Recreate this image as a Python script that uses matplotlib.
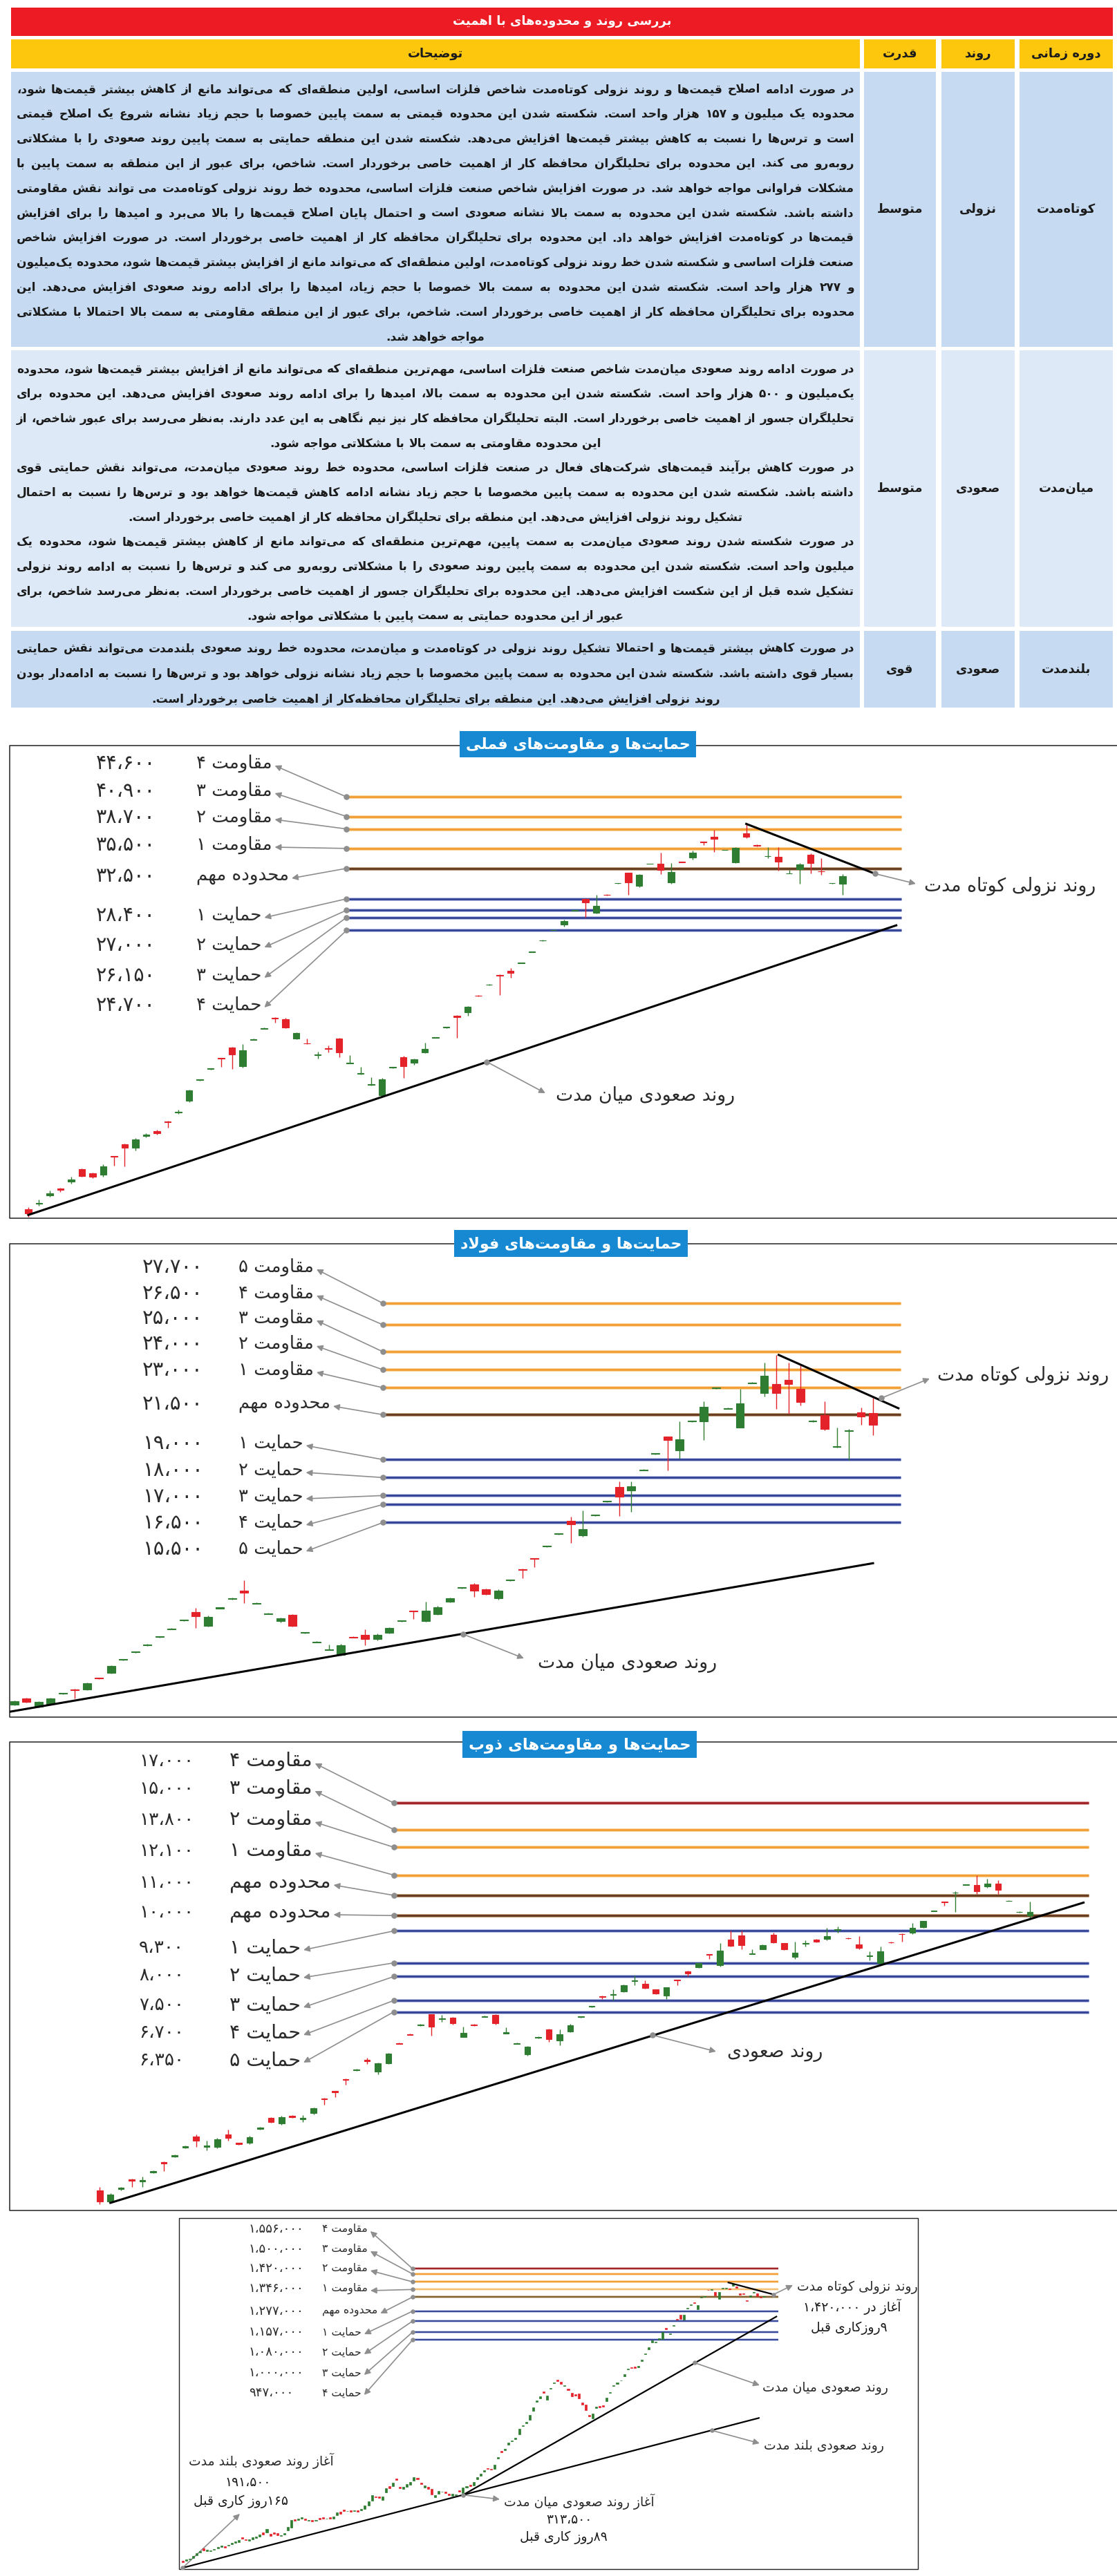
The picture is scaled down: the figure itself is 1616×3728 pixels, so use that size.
import re
import matplotlib
matplotlib.use('Agg')
import numpy as np
import matplotlib.pyplot as plt
from matplotlib.patches import Rectangle

plt.rcParams['font.family'] = ['DejaVu Sans']

# ========== Datos: tabla ==========
TABLE_TITLE = "بررسی روند و محدوده\u200cهای با اهمیت"
HEADERS = ["دوره زمانی", "روند", "قدرت", "توضیحات"]
PERIODS = ["کوتاه\u200cمدت", "میان\u200cمدت", "بلندمدت"]
TRENDS = ["نزولی", "صعودی", "صعودی"]
STRENGTH = ["متوسط", "متوسط", "قوی"]

ROW1 = [
    "در صورت ادامه اصلاح قیمت\u200cها و روند نزولی کوتاه\u200cمدت شاخص فلزات اساسی، اولین منطقه\u200cای که می\u200cتواند مانع از کاهش بیشتر قیمت\u200cها شود،",
    "محدوده یک میلیون و ۱۵۷ هزار واحد است. شکسته شدن این محدوده قیمتی به سمت پایین خصوصا با حجم زیاد نشانه شروع یک اصلاح قیمتی",
    "است و ترس\u200cها را نسبت به کاهش بیشتر قیمت\u200cها افزایش می\u200cدهد. شکسته شدن این منطقه حمایتی به سمت پایین روند صعودی را با مشکلاتی",
    "روبه\u200cرو می کند. این محدوده برای تحلیلگران محافظه کار از اهمیت خاصی برخوردار است. شاخص، برای عبور از این منطقه به سمت پایین با",
    "مشکلات فراوانی مواجه خواهد شد. در صورت افزایش شاخص صنعت فلزات اساسی، محدوده خط روند نزولی کوتاه\u200cمدت می تواند نقش مقاومتی",
    "داشته باشد. شکسته شدن این محدوده به سمت بالا نشانه صعودی است و احتمال پایان اصلاح قیمت\u200cها را بالا می\u200cبرد و امیدها را برای افزایش",
    "قیمت\u200cها در کوتاه\u200cمدت افزایش خواهد داد. این محدوده برای تحلیلگران محافظه کار از اهمیت خاصی برخوردار است. در صورت افزایش شاخص",
    "صنعت فلزات اساسی و شکسته شدن خط روند نزولی کوتاه\u200cمدت، اولین منطقه\u200cای که می\u200cتواند مانع از افزایش بیشتر قیمت\u200cها شود، محدوده یک\u200cمیلیون",
    "و ۲۷۷ هزار واحد است. شکسته شدن این محدوده به سمت بالا خصوصا با حجم زیاد، امیدها را برای ادامه روند صعودی افزایش می\u200cدهد. این",
    "محدوده برای تحلیلگران محافظه کار از اهمیت خاصی برخوردار است. شاخص، برای عبور از این منطقه مقاومتی به سمت بالا احتمالا با مشکلاتی",
    "مواجه خواهد شد.",
]
ROW2 = [
    "در صورت ادامه روند صعودی میان\u200cمدت شاخص صنعت فلزات اساسی، مهم\u200cترین منطقه\u200cای که می\u200cتواند مانع از افزایش بیشتر قیمت\u200cها شود، محدوده",
    "یک\u200cمیلیون و ۵۰۰ هزار واحد است. شکسته شدن این محدوده به سمت بالا، امیدها را برای ادامه روند صعودی افزایش می\u200cدهد. این محدوده برای",
    "تحلیلگران جسور از اهمیت خاصی برخوردار است. البته تحلیلگران محافظه کار نیز نیم نگاهی به این عدد دارند. به\u200cنظر می\u200cرسد برای عبور شاخص، از",
    "این محدوده مقاومتی به سمت بالا با مشکلاتی مواجه شود.",
    "در صورت کاهش برآیند قیمت\u200cهای شرکت\u200cهای فعال در صنعت فلزات اساسی، محدوده خط روند صعودی میان\u200cمدت، می\u200cتواند نقش حمایتی قوی",
    "داشته باشد. شکسته شدن این محدوده به سمت پایین مخصوصا با حجم زیاد نشانه ادامه کاهش قیمت\u200cها خواهد بود و ترس\u200cها را نسبت به احتمال",
    "تشکیل روند نزولی افزایش می\u200cدهد. این منطقه برای تحلیلگران محافظه کار از اهمیت خاصی برخوردار است.",
    "در صورت شکسته شدن روند صعودی میان\u200cمدت به سمت پایین، مهم\u200cترین منطقه\u200cای که می\u200cتواند مانع از کاهش بیشتر قیمت\u200cها شود، محدوده یک",
    "میلیون واحد است. شکسته شدن این محدوده به سمت پایین روند صعودی را با مشکلاتی روبه\u200cرو می کند و ترس\u200cها را نسبت به ادامه روند نزولی",
    "تشکیل شده قبل از این شکست افزایش می\u200cدهد. این محدوده برای تحلیلگران جسور از اهمیت خاصی برخوردار است. به\u200cنظر می\u200cرسد شاخص، برای",
    "عبور از این محدوده حمایتی به سمت پایین با مشکلاتی مواجه شود.",
]
ROW3 = [
    "در صورت کاهش بیشتر قیمت\u200cها و احتمالا تشکیل روند نزولی در کوتاه\u200cمدت و میان\u200cمدت، محدوده خط روند صعودی بلندمدت می\u200cتواند نقش حمایتی",
    "بسیار قوی داشته باشد. شکسته شدن این محدوده به سمت پایین مخصوصا با حجم زیاد نشانه نزولی خواهد بود و ترس\u200cها را نسبت به ادامه\u200cدار بودن",
    "روند نزولی افزایش می\u200cدهد. این منطقه برای تحلیلگران محافظه\u200cکار از اهمیت خاصی برخوردار است.",
]
ROWS = [ROW1, ROW2, ROW3]
ROW_LAST = [[10], [3, 6, 10], [2]]

# ========== Datos: فملی (miles de rial) ==========
C1_TITLE = "حمایت\u200cها و مقاومت\u200cهای فملی"
C1_LEVELS = [44.6, 40.9, 38.7, 35.5, 32.5, 28.4, 27.0, 26.15, 24.7]
C1_NAMES = ["مقاومت ۴", "مقاومت ۳", "مقاومت ۲", "مقاومت ۱", "محدوده مهم",
            "حمایت ۱", "حمایت ۲", "حمایت ۳", "حمایت ۴"]
C1_OPEN = [7.18, 7.35, 7.63, 7.86, 8.12, 8.58, 8.41, 8.38, 9.08, 9.56, 9.42, 9.93, 10.16, 10.60, 11.03,
           11.60, 12.72, 13.36, 14.03, 14.70, 13.52, 15.21, 15.98, 16.77, 16.66, 15.31, 14.99, 14.21,
           14.66, 15.31, 13.71, 13.09, 12.44, 11.90, 13.43, 14.08, 13.73, 14.40, 15.34, 16.05, 16.92,
           17.18, 18.51, 19.40, 20.25, 20.64, 21.37, 22.45, 23.60, 24.71, 25.31, 26.98, 28.41, 26.73,
           28.93, 30.41, 31.84, 30.06, 33.15, 33.17, 30.52, 33.45, 34.15, 36.55, 37.41, 35.25, 33.39,
           37.95, 36.07, 34.28, 34.23, 31.78, 32.38, 34.57, 32.07, 30.41, 30.39]
C1_HIGH = [7.25, 7.50, 7.80, 7.90, 8.28, 8.60, 8.45, 8.75, 9.10, 9.60, 9.85, 10.05, 10.20, 10.62, 11.15,
           12.20, 12.78, 13.42, 14.05, 14.75, 14.90, 15.27, 16.04, 16.80, 16.75, 15.70, 15.30, 14.45,
           14.85, 15.35, 14.20, 13.50, 12.90, 12.85, 13.49, 14.15, 14.00, 15.00, 15.40, 16.11, 16.95,
           17.65, 18.54, 19.46, 20.30, 20.90, 21.43, 22.51, 23.66, 24.77, 25.85, 27.04, 28.50, 28.91,
           28.97, 30.47, 31.90, 31.70, 33.21, 34.88, 33.30, 33.50, 35.21, 36.60, 38.49, 35.31, 35.65,
           39.58, 36.15, 35.71, 35.71, 32.30, 33.30, 34.73, 34.01, 30.47, 31.70]
C1_LOW = [6.95, 7.28, 7.58, 7.75, 8.05, 8.30, 8.25, 8.30, 8.72, 8.67, 9.30, 9.88, 10.00, 10.30, 10.95,
          11.55, 12.70, 13.34, 13.50, 13.38, 13.45, 15.19, 15.96, 16.40, 16.00, 15.25, 14.93, 14.00,
          14.40, 14.10, 13.70, 13.05, 12.42, 11.85, 13.41, 12.85, 13.60, 14.35, 15.32, 16.03, 15.36,
          16.90, 18.44, 19.38, 18.55, 20.00, 21.35, 22.43, 23.58, 24.69, 25.10, 26.96, 26.11, 26.60,
          28.85, 30.39, 28.94, 29.90, 33.13, 31.70, 30.40, 33.38, 33.77, 36.00, 34.98, 35.23, 33.30,
          37.10, 35.80, 34.01, 32.15, 31.75, 30.39, 31.80, 31.61, 30.39, 28.94]
C1_CLOSE = [7.04, 7.39, 7.71, 7.82, 8.20, 8.32, 8.28, 8.67, 9.05, 9.42, 9.77, 9.98, 10.06, 10.56, 11.07,
            12.17, 12.76, 13.40, 13.99, 14.26, 14.52, 15.25, 16.02, 16.73, 16.07, 15.67, 14.95, 14.25,
            14.62, 14.37, 13.75, 13.13, 12.48, 12.78, 13.47, 13.52, 13.93, 14.59, 15.38, 16.09, 16.84,
            17.62, 18.47, 19.44, 20.21, 20.43, 21.41, 22.49, 23.64, 24.75, 25.76, 27.02, 27.95, 27.56,
            28.89, 30.45, 30.52, 31.61, 33.19, 32.25, 31.97, 33.41, 34.88, 36.51, 36.99, 35.29, 35.57,
            37.41, 35.87, 34.32, 33.43, 31.82, 33.06, 33.30, 32.03, 30.45, 31.36]
C1_MID_X, C1_MID_Y = [0, 81], [7.0, 25.25]
C1_SHORT_X, C1_SHORT_Y = [67, 79], [39.58, 31.75]
C1_MID_DOT = (42.8, 13.79)

# ========== Datos: فولاد ==========
C2_TITLE = "حمایت\u200cها و مقاومت\u200cهای فولاد"
C2_LEVELS = [27.7, 26.5, 25.0, 24.0, 23.0, 21.5, 19.0, 18.0, 17.0, 16.5, 15.5]
C2_NAMES = ["مقاومت ۵", "مقاومت ۴", "مقاومت ۳", "مقاومت ۲", "مقاومت ۱", "محدوده مهم",
            "حمایت ۱", "حمایت ۲", "حمایت ۳", "حمایت ۴", "حمایت ۵"]
C2_OPEN = [5.36, 5.71, 5.24, 5.38, 5.96, 6.21, 6.19, 6.84, 7.13, 7.85, 8.26, 8.66, 9.12, 9.55, 10.03,
           10.52, 9.74, 10.72, 11.24, 11.69, 10.98, 10.41, 10.00, 10.35, 9.35, 8.83, 8.40, 8.11, 9.13,
           9.25, 9.02, 9.37, 10.00, 10.59, 10.00, 10.40, 11.08, 11.84, 12.03, 11.77, 11.26, 12.27,
           12.91, 13.51, 14.16, 14.84, 15.59, 14.78, 15.88, 16.65, 17.49, 17.27, 18.40, 19.31, 20.28,
           19.50, 21.12, 21.14, 22.97, 21.84, 20.79, 23.26, 22.72, 23.20, 23.42, 22.94, 21.12, 21.48,
           19.69, 20.60, 21.62, 21.60]
C2_HIGH = [5.60, 5.75, 5.55, 5.75, 6.02, 6.22, 6.58, 6.86, 7.55, 7.91, 8.32, 8.72, 9.18, 9.61, 10.09,
           10.74, 10.30, 10.78, 11.30, 12.29, 11.04, 10.47, 10.20, 10.40, 9.41, 8.89, 8.70, 8.72, 9.15,
           9.54, 9.30, 9.66, 10.06, 10.60, 11.08, 10.84, 11.30, 11.90, 12.12, 11.80, 11.76, 12.33,
           12.92, 13.52, 14.22, 14.90, 15.81, 16.15, 15.94, 16.71, 17.79, 17.79, 18.46, 19.37, 20.30,
           21.14, 21.18, 22.25, 23.03, 21.90, 22.94, 23.32, 24.40, 24.83, 24.40, 24.23, 21.20, 22.25,
           20.80, 20.70, 21.91, 22.43]
C2_LOW = [5.30, 5.45, 5.20, 5.35, 5.94, 5.71, 6.15, 6.78, 7.10, 7.83, 8.24, 8.64, 9.10, 9.53, 10.01,
          9.62, 9.70, 10.70, 11.22, 11.00, 10.96, 10.39, 9.95, 9.70, 9.33, 8.81, 8.38, 8.08, 9.07,
          8.68, 8.95, 9.33, 9.98, 10.14, 9.96, 10.35, 11.04, 11.82, 11.34, 11.48, 11.20, 12.25,
          12.40, 13.00, 14.14, 14.82, 14.35, 14.70, 15.86, 16.63, 15.84, 16.07, 18.38, 19.29, 18.39,
          19.07, 21.10, 20.11, 22.95, 21.82, 20.79, 23.24, 22.51, 21.82, 21.57, 22.00, 21.10, 20.62,
          19.68, 18.99, 20.93, 20.36]
C2_CLOSE = [5.55, 5.50, 5.50, 5.71, 6.00, 6.17, 6.53, 6.80, 7.51, 7.89, 8.30, 8.70, 9.16, 9.59, 10.07,
            10.26, 10.23, 10.76, 11.28, 11.60, 11.02, 10.45, 10.17, 9.74, 9.39, 8.87, 8.44, 8.68, 9.09,
            9.02, 9.25, 9.62, 10.04, 10.55, 10.57, 10.79, 11.26, 11.88, 11.72, 11.51, 11.72, 12.31,
            12.87, 13.47, 14.20, 14.88, 15.38, 15.12, 15.92, 16.69, 16.93, 17.53, 18.44, 19.35, 20.11,
            20.14, 21.16, 21.94, 23.01, 21.88, 22.13, 23.30, 23.66, 22.72, 23.20, 22.22, 21.16, 20.71,
            19.73, 20.64, 21.39, 20.93]
C2_MID_X, C2_MID_Y = [-0.36, 71], [4.96, 13.23]
C2_SHORT_X, C2_SHORT_Y = [63.2, 73.1], [24.83, 21.86]
C2_MID_DOT = (37.1, 9.28)
C2_SHORT_DOT = (71.7, 22.43)

# ========== Datos: ذوب ==========
C3_TITLE = "حمایت\u200cها و مقاومت\u200cهای ذوب"
C3_LEVELS = [17.0, 15.0, 13.8, 12.1, 11.0, 10.0, 9.3, 8.0, 7.5, 6.7, 6.35]
C3_NAMES = ["مقاومت ۴", "مقاومت ۳", "مقاومت ۲", "مقاومت ۱", "محدوده مهم", "محدوده مهم",
            "حمایت ۱", "حمایت ۲", "حمایت ۳", "حمایت ۴", "حمایت ۵"]
C3_OPEN = [2.74, 2.60, 2.75, 2.88, 2.85, 2.98, 3.13, 3.21, 3.35, 3.53, 3.36, 3.36, 3.56, 3.42, 3.42,
           3.66, 3.85, 3.75, 3.89, 3.83, 3.94, 4.22, 4.37, 4.63, 4.82, 5.06, 4.79, 4.98, 5.48, 5.72,
           5.96, 6.28, 6.13, 6.18, 5.64, 5.98, 6.20, 6.26, 5.74, 5.46, 5.19, 5.62, 5.85, 5.55, 5.79,
           6.19, 6.50, 6.84, 6.89, 7.00, 7.34, 7.24, 7.05, 6.85, 7.39, 7.69, 7.83, 8.34, 7.92, 8.93,
           9.10, 8.35, 8.54, 9.13, 8.77, 8.22, 8.76, 8.93, 8.96, 9.35, 9.00, 8.73, 8.26, 7.98, 8.82,
           9.17, 9.23, 9.46, 10.21, 10.68, 11.14, 11.55, 11.56, 11.48, 11.61, 10.71, 10.16, 10.00]
C3_HIGH = [2.78, 2.70, 2.78, 2.89, 2.92, 3.01, 3.14, 3.24, 3.38, 3.56, 3.46, 3.50, 3.64, 3.43, 3.54,
           3.69, 3.87, 3.89, 3.90, 3.90, 4.05, 4.23, 4.38, 4.64, 4.85, 5.11, 5.00, 5.23, 5.49, 5.73,
           5.99, 6.28, 6.25, 6.20, 5.92, 5.99, 6.23, 6.28, 5.90, 5.49, 5.41, 5.65, 5.87, 5.84, 5.99,
           6.22, 6.53, 6.85, 7.05, 7.23, 7.53, 7.36, 7.07, 7.14, 7.40, 7.71, 8.00, 8.35, 8.77, 9.30,
           9.30, 8.52, 8.73, 9.23, 8.79, 8.83, 8.90, 8.95, 9.43, 9.50, 9.02, 9.08, 8.46, 8.64, 8.83,
           9.18, 9.64, 9.76, 10.24, 10.69, 11.23, 11.58, 12.08, 11.90, 11.82, 10.74, 10.19, 10.67]
C3_LOW = [2.565, 2.58, 2.74, 2.78, 2.78, 2.97, 3.00, 3.20, 3.34, 3.36, 3.31, 3.34, 3.46, 3.39, 3.40,
          3.65, 3.76, 3.73, 3.85, 3.78, 3.92, 4.10, 4.25, 4.50, 4.81, 4.97, 4.73, 4.96, 5.45, 5.69,
          5.95, 5.67, 6.05, 5.98, 5.63, 5.95, 6.19, 5.98, 5.73, 5.45, 5.17, 5.61, 5.51, 5.43, 5.77,
          6.18, 6.49, 6.75, 6.70, 6.98, 7.21, 7.08, 6.91, 6.75, 7.20, 7.50, 7.81, 8.15, 7.86, 8.65,
          8.52, 8.34, 8.52, 8.77, 8.50, 8.15, 8.64, 8.81, 8.90, 9.23, 8.97, 8.52, 8.10, 7.92, 8.79,
          8.83, 9.16, 9.44, 10.20, 10.47, 10.17, 11.54, 11.07, 11.40, 11.07, 10.70, 10.15, 9.85]
C3_CLOSE = [2.60, 2.68, 2.77, 2.86, 2.87, 3.00, 3.11, 3.23, 3.37, 3.46, 3.38, 3.48, 3.51, 3.40, 3.52,
            3.68, 3.78, 3.87, 3.86, 3.85, 4.03, 4.20, 4.35, 4.61, 4.84, 5.03, 4.98, 5.21, 5.46, 5.70,
            5.98, 5.92, 6.15, 6.01, 5.75, 5.96, 6.22, 6.01, 5.76, 5.48, 5.39, 5.64, 5.59, 5.71, 5.97,
            6.21, 6.52, 6.82, 6.91, 7.21, 7.36, 7.10, 6.93, 7.12, 7.37, 7.61, 7.98, 8.32, 8.48, 8.67,
            8.71, 8.37, 8.71, 8.80, 8.52, 8.39, 8.78, 8.83, 9.08, 9.37, 8.98, 8.58, 8.28, 8.46, 8.80,
            9.15, 9.43, 9.74, 10.23, 10.66, 11.16, 11.57, 11.23, 11.61, 11.28, 10.73, 10.18, 10.18]
C3_UP_X, C3_UP_Y = [1.0, 92], [2.58, 10.63]
C3_UP_DOT = (51.7, 5.69)

# ========== Datos: شاخص فلزات اساسی (miles de unidades) ==========
C4_LEVELS = [1556, 1500, 1420, 1346, 1277, 1157, 1080, 1000, 947]
C4_NAMES = ["مقاومت ۴", "مقاومت ۳", "مقاومت ۲", "مقاومت ۱", "محدوده مهم",
            "حمایت ۱", "حمایت ۲", "حمایت ۳", "حمایت ۴"]
C4_OPEN = [203, 203, 205, 207, 211, 215, 221, 217, 216.8, 218.5, 221.5, 223.5, 224, 225, 228, 229.5,
           231, 239, 235.8, 233.5, 235.5, 238, 240.5, 247, 247, 245, 247, 246, 241.4, 244, 250, 255,
           270.5, 270, 271.5, 272.5, 268.4, 269, 267.5, 273.5, 275, 271.5, 275, 271.5, 278, 285,
           289.5, 286.5, 288.5, 287, 288.5, 288.5, 291.5, 298, 309, 318, 317, 309.5, 327, 341, 341,
           359, 340, 334.5, 340, 345, 354, 362, 350, 338, 339, 335, 315.5, 324, 327.5, 329, 324, 319,
           320.2, 331.5, 325.6, 338, 344.5, 343, 358, 367, 377, 387, 385.5, 384.3, 414.5, 437, 437.5,
           455, 466, 473, 489, 518, 530, 543, 576.2, 615.5, 630, 662, 624.4, 672.5, 700, 715.5, 706,
           685.5, 673, 653.2, 648.5, 651.5, 612, 602.8, 559.5, 547.3, 587.5, 598, 601, 617.5, 653.5,
           686, 695, 712, 736, 771.5, 781, 784, 781, 815, 856.5, 888, 931, 932, 948, 953.1, 1029,
           987, 1042, 1095, 1128.4, 1092.6, 1177.5, 1204.5, 1231, 1174.6, 1270, 1279, 1345, 1344,
           1320.9, 1258.6, 1354.5, 1353, 1356, 1382, 1373, 1309, 1312, 1249.5, 1281, 1318, 1307.8,
           1279.5, 1281]
C4_CLOSE = [201, 204.5, 206, 210, 214, 217, 218, 219, 217.6, 220.5, 223.5, 225, 222.5, 227, 230,
            231.5, 234, 236, 234.8, 235, 238.5, 240, 243, 244, 253, 241.5, 244.5, 242.5, 242.2, 246,
            257, 270, 267.5, 271.5, 275, 269.5, 269.4, 266.5, 270, 271, 272, 272.5, 272, 275.5, 284,
            282, 286.5, 287.5, 285.5, 288.5, 285.5, 291.5, 297.5, 307, 320, 315.5, 314.5, 318, 337,
            337, 350, 356, 335.5, 339, 346, 350.5, 363, 358.5, 345.5, 343, 334.5, 322, 320, 330, 329,
            325.5, 320, 323, 321.8, 328, 337.9, 341.5, 341, 351.8, 364, 373, 382, 384, 382.5, 396.8,
            417.5, 432, 442.5, 462, 469, 479, 509, 521.5, 533.5, 560.7, 591.2, 619.5, 638, 655,
            642.8, 676.5, 704.5, 711.5, 698, 690, 665.5, 637.6, 641, 630.5, 603, 579, 556.5, 565.2,
            595, 592, 595, 632.5, 657, 689.5, 702.5, 715, 745, 775, 778, 778.5, 790.5, 826.5, 860.5,
            899.5, 945, 936, 958, 1000.2, 1020, 991, 1047, 1090, 1096.1, 1128.4, 1183, 1210, 1222.5,
            1207.2, 1276, 1287.5, 1339.5, 1349.5, 1293.5, 1320.9, 1360.5, 1362, 1347, 1399, 1364,
            1299, 1303, 1244, 1293, 1324, 1287.3, 1275, 1286]
C4_LONG_X, C4_LONG_Y = [0, 164.4], [193, 549]
C4_MID_X, C4_MID_Y = [80, 169.4], [321, 1114]
C4_SHORT_X, C4_SHORT_Y = [155.7, 168.6], [1413, 1300]
C4_LONG_DOT = (151, 503.4)
C4_MID_DOT = (146.1, 807)
C4_LONG_START = 191500
C4_LONG_DAYS = 165
C4_MID_START = 313500
C4_MID_DAYS = 89
C4_PEAK = 1420000
C4_PEAK_DAYS = 9

# ========== Forma y orden de escritura persa ==========
FORMS = {
    '\u0621': ('\uFE80', None, None, None), '\u0622': ('\uFE81', '\uFE82', None, None),
    '\u0623': ('\uFE83', '\uFE84', None, None), '\u0624': ('\uFE85', '\uFE86', None, None),
    '\u0625': ('\uFE87', '\uFE88', None, None), '\u0626': ('\uFE89', '\uFE8A', '\uFE8B', '\uFE8C'),
    '\u0627': ('\uFE8D', '\uFE8E', None, None), '\u0628': ('\uFE8F', '\uFE90', '\uFE91', '\uFE92'),
    '\u0629': ('\uFE93', '\uFE94', None, None), '\u062A': ('\uFE95', '\uFE96', '\uFE97', '\uFE98'),
    '\u062B': ('\uFE99', '\uFE9A', '\uFE9B', '\uFE9C'), '\u062C': ('\uFE9D', '\uFE9E', '\uFE9F', '\uFEA0'),
    '\u062D': ('\uFEA1', '\uFEA2', '\uFEA3', '\uFEA4'), '\u062E': ('\uFEA5', '\uFEA6', '\uFEA7', '\uFEA8'),
    '\u062F': ('\uFEA9', '\uFEAA', None, None), '\u0630': ('\uFEAB', '\uFEAC', None, None),
    '\u0631': ('\uFEAD', '\uFEAE', None, None), '\u0632': ('\uFEAF', '\uFEB0', None, None),
    '\u0633': ('\uFEB1', '\uFEB2', '\uFEB3', '\uFEB4'), '\u0634': ('\uFEB5', '\uFEB6', '\uFEB7', '\uFEB8'),
    '\u0635': ('\uFEB9', '\uFEBA', '\uFEBB', '\uFEBC'), '\u0636': ('\uFEBD', '\uFEBE', '\uFEBF', '\uFEC0'),
    '\u0637': ('\uFEC1', '\uFEC2', '\uFEC3', '\uFEC4'), '\u0638': ('\uFEC5', '\uFEC6', '\uFEC7', '\uFEC8'),
    '\u0639': ('\uFEC9', '\uFECA', '\uFECB', '\uFECC'), '\u063A': ('\uFECD', '\uFECE', '\uFECF', '\uFED0'),
    '\u0641': ('\uFED1', '\uFED2', '\uFED3', '\uFED4'), '\u0642': ('\uFED5', '\uFED6', '\uFED7', '\uFED8'),
    '\u0643': ('\uFED9', '\uFEDA', '\uFEDB', '\uFEDC'), '\u0644': ('\uFEDD', '\uFEDE', '\uFEDF', '\uFEE0'),
    '\u0645': ('\uFEE1', '\uFEE2', '\uFEE3', '\uFEE4'), '\u0646': ('\uFEE5', '\uFEE6', '\uFEE7', '\uFEE8'),
    '\u0647': ('\uFEE9', '\uFEEA', '\uFEEB', '\uFEEC'), '\u0648': ('\uFEED', '\uFEEE', None, None),
    '\u0649': ('\uFEEF', '\uFEF0', None, None), '\u064A': ('\uFEF1', '\uFEF2', '\uFEF3', '\uFEF4'),
    '\u067E': ('\uFB56', '\uFB57', '\uFB58', '\uFB59'), '\u0686': ('\uFB7A', '\uFB7B', '\uFB7C', '\uFB7D'),
    '\u0698': ('\uFB8A', '\uFB8B', None, None), '\u06A9': ('\uFB8E', '\uFB8F', '\uFB90', '\uFB91'),
    '\u06AF': ('\uFB92', '\uFB93', '\uFB94', '\uFB95'), '\u06CC': ('\uFBFC', '\uFBFD', '\uFBFE', '\uFBFF'),
}
LAM_ALEF = {'\u0622': ('\uFEF5', '\uFEF6'), '\u0623': ('\uFEF7', '\uFEF8'),
            '\u0625': ('\uFEF9', '\uFEFA'), '\u0627': ('\uFEFB', '\uFEFC')}
NUM_RE = re.compile(r'[0-9\u06F0-\u06F9]+(?:[.,\u060C\u066B][0-9\u06F0-\u06F9]+)*')


def shape(s):
    out, i, n = [], 0, len(s)
    while i < n:
        ch = s[i]
        if ch not in FORMS:
            if ch != '\u200c':
                out.append(ch)
            i += 1
            continue
        prev = s[i - 1] if i > 0 else None
        jp = prev in FORMS and FORMS[prev][2] is not None
        if ch == '\u0644' and i + 1 < n and s[i + 1] in LAM_ALEF:
            iso, fin = LAM_ALEF[s[i + 1]]
            out.append(fin if jp else iso)
            i += 2
            continue
        nxt = s[i + 1] if i + 1 < n else None
        iso, fin, ini, med = FORMS[ch]
        jn = ini is not None and nxt in FORMS
        out.append(med if (jp and jn) else fin if jp else ini if jn else iso)
        i += 1
    return ''.join(out)


def vis(s):
    t = shape(s)
    parts, pos = [], 0
    for m in NUM_RE.finditer(t):
        if m.start() > pos:
            parts.append((False, t[pos:m.start()]))
        parts.append((True, m.group()))
        pos = m.end()
    if pos < len(t):
        parts.append((False, t[pos:]))
    return ''.join(p if num else p[::-1] for num, p in reversed(parts))


def fa_num(n):
    return f"{int(round(n)):,}".translate(str.maketrans('0123456789,', '۰۱۲۳۴۵۶۷۸۹،'))


# ========== Lienzo ==========
W, H = 1616, 3728
fig = plt.figure(figsize=(W / 100, H / 100), dpi=100)
bg = fig.add_axes([0, 0, 1, 1])
bg.set_xlim(0, W)
bg.set_ylim(H, 0)
bg.axis('off')
R = fig.canvas.get_renderer()

TXT = '#1b1b1b'
GREEN, RED = '#2e7d32', '#e3222a'
GREY = '#8e8e8e'
STYLE = {'r': ('#fcd6a0', '#f29a2e'), 'm': ('#c39f80', '#5e3519'), 's': ('#b5bfe6', '#2d3c92'),
         'd': ('#dc9f9f', '#9a1a1d'), 'l': ('#fde6c4', '#f6bd6c'), 'o': ('#cdb894', '#7d5c2b')}


def ftext(x, y, s, size, ha='center', va='center', color=TXT, weight='normal', zorder=6):
    return bg.text(x, y, vis(s), fontsize=size, ha=ha, va=va, color=color,
                   fontweight=weight, zorder=zorder)


def text_w(s, size, weight='normal'):
    t = bg.text(0, 0, vis(s), fontsize=size, fontweight=weight)
    w = t.get_window_extent(R).width
    t.remove()
    return w


def fit_size(s, target, weight='normal'):
    return 20 * target / text_w(s, 20, weight)


# ---------- tabla ----------
bg.add_patch(Rectangle((16, 11), 1594, 41, facecolor='#ed1c24', edgecolor='none'))
ftext(813, 31, TABLE_TITLE, fit_size(TABLE_TITLE, 315, 'bold'), color='white', weight='bold')

COLS = [(1475, 1610), (1362, 1468), (1250, 1354), (16, 1244)]
ROWS_Y = [(104, 502), (507, 907), (913, 1024)]
ROW_BG = ['#c6dbf1', '#dde9f6', '#c6dbf1']
LINE_Y0 = [129, 534, 938]
LINE_PITCH = [35.8, 35.7, 36.7]
DESC_L, DESC_R = 24, 1236

cell_size = fit_size(HEADERS[0], 100, 'bold')
for (x0, x1), hd in zip(COLS, HEADERS):
    bg.add_patch(Rectangle((x0, 57), x1 - x0, 42, facecolor='#fdc70d', edgecolor='none'))
    ftext((x0 + x1) / 2, 78, hd, cell_size, weight='bold')

for r, (y0, y1) in enumerate(ROWS_Y):
    for x0, x1 in COLS:
        bg.add_patch(Rectangle((x0, y0), x1 - x0, y1 - y0, facecolor=ROW_BG[r], edgecolor='none'))
    cy = (y0 + y1) / 2
    for (x0, x1), s in zip(COLS[:3], [PERIODS[r], TRENDS[r], STRENGTH[r]]):
        ftext((x0 + x1) / 2, cy, s, cell_size, weight='bold')

# tamano comun del texto justificado
base = 14
ratios = []
for rows, lasts in zip(ROWS, ROW_LAST):
    for k, ln in enumerate(rows):
        if k in lasts:
            continue
        ws = [text_w(w, base, 'bold') for w in ln.split(' ')]
        nat = sum(ws) + 0.25 * base * 100 / 72 * (len(ws) - 1)
        ratios.append((DESC_R - DESC_L) / nat)
para_size = base * min(ratios) * 0.995
px = para_size * 100 / 72

for r, (rows, lasts) in enumerate(zip(ROWS, ROW_LAST)):
    for k, ln in enumerate(rows):
        yb = LINE_Y0[r] + k * LINE_PITCH[r] + 0.32 * px
        words = ln.split(' ')
        arts = [bg.text(0, yb, vis(w), fontsize=para_size, fontweight='bold', ha='right',
                        va='baseline', color=TXT, zorder=6) for w in words]
        ws = [a.get_window_extent(R).width for a in arts]
        if k in lasts:
            gap = 0.3 * px
            x = (DESC_L + DESC_R) / 2 + (sum(ws) + gap * (len(ws) - 1)) / 2
        else:
            gap = (DESC_R - DESC_L - sum(ws)) / (len(ws) - 1)
            x = DESC_R
        for a, w in zip(arts, ws):
            a.set_x(x)
            x -= w + gap


# ---------- graficos ----------
def chart_ax(box, xlim, ylim, log):
    x0, y0, x1, y1 = box
    ax = fig.add_axes([x0 / W, 1 - y1 / H, (x1 - x0) / W, (y1 - y0) / H], facecolor='none')
    if log:
        ax.set_yscale('log')
    ax.set_xlim(*xlim)
    ax.set_ylim(*ylim)
    ax.axis('off')
    return ax


def frame(box, title_box=None, title=None):
    x0, y0, x1, y1 = box
    bg.plot([W, x0, x0, W], [y0, y0, y1, y1], color='#222222', lw=1.1, zorder=2)
    if title_box:
        tx0, ty0, tx1, ty1 = title_box
        bg.add_patch(Rectangle((tx0, ty0), tx1 - tx0, ty1 - ty0, facecolor='#1788d2',
                               edgecolor='none', zorder=7))
        ftext((tx0 + tx1) / 2, (ty0 + ty1) / 2 + 1, title, fit_size(title, tx1 - tx0 - 18, 'bold'),
              color='white', weight='bold', zorder=8)


def candles(ax, o, h, l, c, width, wick=True, elw=0.8):
    o = np.asarray(o, float)
    c = np.asarray(c, float)
    x = np.arange(len(o))
    col = [GREEN if cc >= oo else RED for oo, cc in zip(o, c)]
    if wick:
        ax.vlines(x, l, h, colors=col, lw=1.0, zorder=4)
    ax.bar(x, np.abs(c - o), bottom=np.minimum(o, c), width=width, color=col,
           edgecolor=col, linewidth=elw, zorder=5)


def levels(ax, vals, names, styles, lx0, lx1, num_x, name_x, label_y, num_w, name_w,
           mult=1000, lw=(3.6, 1.9), dot=38):
    for v, st in zip(vals, styles):
        halo, core = STYLE[st]
        ax.hlines(v, lx0, lx1, colors=halo, lw=lw[0], zorder=2)
        ax.hlines(v, lx0, lx1, colors=core, lw=lw[1], zorder=2)
    ax.scatter([lx0] * len(vals), vals, s=dot, color=GREY, zorder=6, linewidths=0)
    s_num = fit_size(fa_num(vals[0] * mult), num_w)
    s_name = fit_size(names[0], name_w)
    for v, nm, y in zip(vals, names, label_y):
        ftext(num_x, y, fa_num(v * mult), s_num, ha='left', color='#2a2a2a')
        t = ftext(name_x, y, nm, s_name, ha='left', color='#2a2a2a')
        bb = t.get_window_extent(R)
        ax.annotate('', xy=(bb.x1 + 4, y + 3), xycoords=bg.transData, xytext=(lx0, v),
                    textcoords='data', annotation_clip=False,
                    arrowprops=dict(arrowstyle='-|>', color=GREY, lw=1.2, mutation_scale=13,
                                    shrinkA=0, shrinkB=0))


def pointer(ax, pt, tip, label, size, lx, ly, ha='left', dot=38):
    ax.scatter([pt[0]], [pt[1]], s=dot, color=GREY, zorder=7, linewidths=0)
    ax.annotate('', xy=tip, xycoords=bg.transData, xytext=pt, textcoords='data',
                annotation_clip=False,
                arrowprops=dict(arrowstyle='-|>', color=GREY, lw=1.2, mutation_scale=13,
                                shrinkA=0, shrinkB=0))
    if label:
        ftext(lx, ly, label, size, ha=ha, color='#2a2a2a')


TREND_SIZE = fit_size("روند نزولی کوتاه مدت", 248)

# ---- فملی ----
frame((14, 1079, W, 1763), (665, 1058, 1007, 1096), C1_TITLE)
ax1 = chart_ax((14, 1079, W, 1763), (-1.74, 101.6), (6.90, 55.99), True)
levels(ax1, C1_LEVELS, C1_NAMES, ['r'] * 4 + ['m'] + ['s'] * 4, 29.7, 81.5, 139, 284,
       [1105, 1145, 1183, 1223, 1268, 1325, 1368, 1412, 1455], 86, 110)
candles(ax1, C1_OPEN, C1_HIGH, C1_LOW, C1_CLOSE, 0.6)
ax1.plot(C1_MID_X, C1_MID_Y, color='k', lw=2.2, zorder=6)
ax1.plot(C1_SHORT_X, C1_SHORT_Y, color='k', lw=2.2, zorder=6)
pointer(ax1, (C1_SHORT_X[1], C1_SHORT_Y[1]), (1325, 1279), "روند نزولی کوتاه مدت", TREND_SIZE, 1337, 1283)
pointer(ax1, C1_MID_DOT, (789, 1582), "روند صعودی میان مدت", TREND_SIZE, 804, 1586)

# ---- فولاد ----
frame((14, 1800, W, 2485), (657, 1780, 995, 1819), C2_TITLE)
ax2 = chart_ax((14, 1800, W, 2485), (-0.377, 91.17), (4.66, 31.02), False)
levels(ax2, C2_LEVELS, C2_NAMES, ['r'] * 5 + ['m'] + ['s'] * 5, 30.5, 73.3, 206, 345,
       [1834, 1872, 1908, 1945, 1983, 2032, 2089, 2128, 2166, 2204, 2242], 88, 109)
candles(ax2, C2_OPEN, C2_HIGH, C2_LOW, C2_CLOSE, 0.68)
ax2.plot(C2_MID_X, C2_MID_Y, color='k', lw=2.2, zorder=6)
ax2.plot(C2_SHORT_X, C2_SHORT_Y, color='k', lw=2.2, zorder=6)
pointer(ax2, C2_SHORT_DOT, (1345, 1995), "روند نزولی کوتاه مدت", TREND_SIZE, 1356, 1991)
pointer(ax2, C2_MID_DOT, (758, 2400), "روند صعودی میان مدت", TREND_SIZE, 778, 2407)

# ---- ذوب ----
frame((14, 2521, W, 3199), (669, 2505, 1008, 2544), C3_TITLE)
ax3 = chart_ax((14, 2521, W, 3199), (-8.42, 95.13), (2.489, 22.67), True)
levels(ax3, C3_LEVELS, C3_NAMES, ['d', 'r', 'r', 'r', 'm', 'm', 's', 's', 's', 's', 's'], 27.5, 92.5,
       201, 332, [2549, 2589, 2634, 2679, 2725, 2768, 2819, 2859, 2902, 2942, 2982], 79, 120)
candles(ax3, C3_OPEN, C3_HIGH, C3_LOW, C3_CLOSE, 0.55)
ax3.plot(C3_UP_X, C3_UP_Y, color='k', lw=2.2, zorder=6)
pointer(ax3, C3_UP_DOT, (1036, 2969), "روند صعودی", TREND_SIZE, 1052, 2971)

# ---- شاخص ----
bg.add_patch(Rectangle((259, 3210), 1069, 508, fill=False, edgecolor='#222222', lw=1.0, zorder=2))
ax4 = chart_ax((259, 3210, 1328, 3718), (-1.05, 209.8), (191.3, 2215.6), True)
levels(ax4, C4_LEVELS, C4_NAMES, ['d', 'r', 'r', 'l', 'o', 's', 's', 's', 's'], 65.6, 170,
       360, 466, [3226, 3255, 3283, 3312, 3345, 3375, 3404, 3434, 3463], 80, 66,
       lw=(2.6, 1.3), dot=22)
candles(ax4, C4_OPEN, None, None, C4_CLOSE, 0.6, wick=False, elw=0.5)
ax4.plot(C4_LONG_X, C4_LONG_Y, color='k', lw=1.6, zorder=6)
ax4.plot(C4_MID_X, C4_MID_Y, color='k', lw=1.6, zorder=6)
ax4.plot(C4_SHORT_X, C4_SHORT_Y, color='k', lw=1.6, zorder=6)
s4 = fit_size("آغاز روند صعودی بلند مدت", 209)
pointer(ax4, (C4_SHORT_X[1], C4_SHORT_Y[1]), (1147, 3307), "روند نزولی کوتاه مدت", s4, 1153, 3310, dot=22)
ftext(1233, 3338, "آغاز در " + fa_num(C4_PEAK), s4)
ftext(1228, 3369, fa_num(C4_PEAK_DAYS) + "روزکاری قبل", s4)
pointer(ax4, C4_MID_DOT, (1099, 3452), "روند صعودی میان مدت", s4, 1103, 3456, dot=22)
pointer(ax4, C4_LONG_DOT, (1099, 3536), "روند صعودی بلند مدت", s4, 1105, 3540, dot=22)
pointer(ax4, (C4_LONG_X[0], C4_LONG_Y[0]), (347, 3638), "آغاز روند صعودی بلند مدت", s4, 378, 3561,
        ha='center', dot=22)
ftext(359, 3592, fa_num(C4_LONG_START), s4)
ftext(349, 3620, fa_num(C4_LONG_DAYS) + "روز کاری قبل", s4)
pointer(ax4, (C4_MID_X[0], C4_MID_Y[0]), (723, 3617), "آغاز روند صعودی میان مدت", s4, 729, 3620, dot=22)
ftext(823, 3646, fa_num(C4_MID_START), s4)
ftext(815, 3672, fa_num(C4_MID_DAYS) + "روز کاری قبل", s4)

fig.savefig('out.png', dpi=100, facecolor='white')
